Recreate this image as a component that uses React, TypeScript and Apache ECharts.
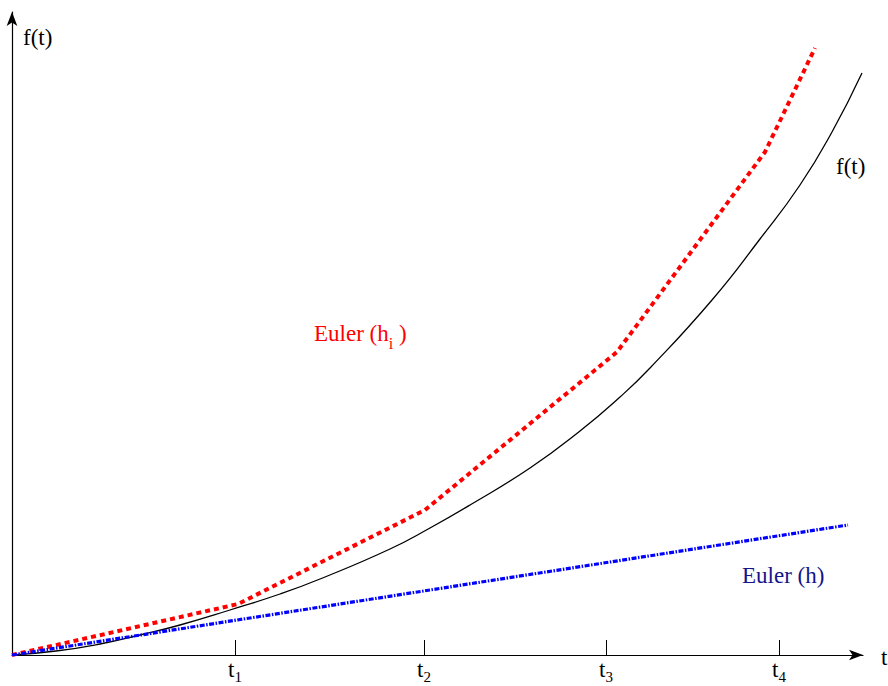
import React, { useEffect, useRef } from "react";
import * as echarts from "echarts";

// t offsets (horizontal units) and f values (vertical units)
const exactF: [number, number][] = [
  [0, 0], [44, 4], [88, 11], [128, 20], [168, 30], [218, 45], [268, 61], [308, 76],
  [378, 106], [418, 127], [458, 150], [518, 187], [568, 224], [608, 258], [638, 287],
  [700, 355], [748, 416], [788, 470], [820, 523], [850, 582],
];
const eulerHi: [number, number][] = [
  [0, 0], [226, 51], [413, 145], [605, 303], [753, 503], [803, 607],
];
const eulerH: [number, number][] = [
  [0, 0], [836, 130],
];
const tickValues = [223, 412, 594, 767];
const tickLabels = ["1", "2", "3", "4"];

const SERIF = "'Liberation Serif', 'DejaVu Serif', serif";

export default function App() {
  const ref = useRef<HTMLDivElement>(null);
  useEffect(() => {
    if (!ref.current) return;
    const chart = echarts.init(ref.current, undefined, { renderer: "svg" });
    chart.setOption({
      animation: false,
      backgroundColor: "#ffffff",
      grid: { left: 12, right: 25, top: 12, bottom: 31, containLabel: false, outerBoundsMode: "none" },
      xAxis: {
        type: "value",
        min: 0,
        max: 851,
        splitLine: { show: false },
        axisLine: {
          show: true,
          onZero: false,
          symbol: ["none", "arrow"],
          symbolSize: [8, 14],
          lineStyle: { color: "#000", width: 1.2 },
        },
        axisTick: {
          show: true,
          inside: true,
          length: 15,
          customValues: tickValues,
          lineStyle: { color: "#000", width: 1 },
        },
        axisLabel: {
          show: true,
          customValues: tickValues,
          margin: 3,
          formatter: (v: number) => {
            const i = tickValues.indexOf(v);
            return `{t|t}{s|${tickLabels[i] ?? ""}}`;
          },
          rich: {
            t: { fontFamily: SERIF, fontSize: 23, color: "#000", lineHeight: 24, verticalAlign: "top" },
            s: { fontFamily: SERIF, fontSize: 15, color: "#000", lineHeight: 14, padding: [11, 0, 0, 0], verticalAlign: "top" },
          },
        },
      },
      yAxis: {
        type: "value",
        min: 0,
        max: 643,
        splitLine: { show: false },
        axisTick: { show: false },
        axisLabel: { show: false },
        axisLine: {
          show: true,
          onZero: false,
          symbol: ["none", "arrow"],
          symbolSize: [8, 14],
          lineStyle: { color: "#000", width: 1.2 },
        },
      },
      series: [
        {
          type: "line",
          data: exactF,
          smooth: 0.5,
          showSymbol: false,
          lineStyle: { color: "#000", width: 1.3 },
          z: 3,
        },
        {
          type: "line",
          data: eulerHi,
          showSymbol: false,
          lineStyle: { color: "#ff0000", width: 4, type: [5, 4] },
          z: 4,
        },
        {
          type: "line",
          data: eulerH,
          showSymbol: false,
          lineStyle: { color: "#0000ff", width: 3.2, type: [5, 1.5, 1.5, 1.5] },
          z: 4,
        },
      ],
      graphic: [
        {
          type: "text",
          left: 23,
          top: 26,
          style: { text: "f(t)", font: `23px ${SERIF}`, fill: "#000" },
        },
        {
          type: "text",
          left: 881,
          top: 646,
          style: { text: "t", font: `23px ${SERIF}`, fill: "#000" },
        },
        {
          type: "text",
          left: 836,
          top: 155,
          style: { text: "f(t)", font: `23px ${SERIF}`, fill: "#000" },
        },
        {
          type: "text",
          left: 742,
          top: 564,
          style: { text: "Euler (h)", font: `23px ${SERIF}`, fill: "#14148c" },
        },
        {
          type: "text",
          left: 314,
          top: 322,
          style: {
            text: "{a|Euler (h}{s|i}{a| )}",
            rich: {
              a: { fontFamily: SERIF, fontSize: 23, fill: "#ff0000", lineHeight: 24, verticalAlign: "top" },
              s: { fontFamily: SERIF, fontSize: 16, fill: "#ff0000", lineHeight: 16, padding: [13, 0, 0, 0], verticalAlign: "top" },
            },
          },
        },
      ],
    });
    return () => chart.dispose();
  }, []);
  return (
    <div
      ref={ref}
      style={{ position: "absolute", left: 0, top: 0, width: 888, height: 686 }}
    />
  );
}
